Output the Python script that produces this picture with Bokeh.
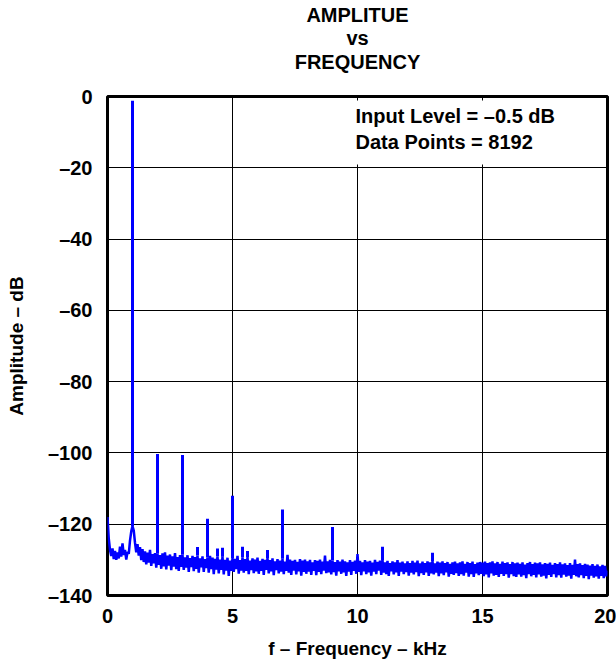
import numpy as np
from bokeh.plotting import figure
from bokeh.models import FixedTicker, Label, BoxAnnotation, Range1d, ColumnDataSource, LinearAxis
from bokeh.embed import file_html
from bokeh.resources import INLINE

# ---- data ----
x_ticks = [0, 5, 10, 15, 20]
y_ticks = [-140, -120, -100, -80, -60, -40, -20, 0]

# noise floor sampled every 0.05 kHz from 0 to 20 kHz (dB)
noise_step_khz = 0.05
noise_db = [
    -118.0, -124.0, -127.2, -128.9, -126.8, -129.8, -127.5, -130.0, -127.9, -129.6,
    -126.3, -129.1, -125.4, -128.6, -127.2, -129.9, -127.8, -128.3, -124.6, -122.0,
    -120.5, -121.8, -125.2, -127.9, -125.6, -128.8, -126.4, -130.1, -127.0, -130.6,
    -127.6, -131.3, -128.0, -130.8, -127.2, -131.7, -128.4, -131.0, -128.1, -132.2,
    -128.3, -131.4, -128.7, -132.5, -128.2, -131.8, -127.9, -132.7, -128.8, -131.6,
    -128.5, -132.9, -129.0, -131.9, -128.1, -132.6, -129.2, -133.1, -128.7, -132.0,
    -128.6, -132.8, -129.3, -132.2, -128.7, -133.4, -129.5, -132.0, -128.9, -133.2,
    -129.2, -132.5, -128.8, -133.6, -129.6, -132.1, -129.0, -133.4, -129.8, -132.3,
    -129.3, -133.6, -128.9, -132.6, -129.4, -134.0, -129.7, -132.7, -129.0, -133.8,
    -129.9, -132.8, -129.1, -134.1, -130.0, -133.0, -129.4, -134.5, -130.2, -133.1,
    -129.5, -133.4, -129.7, -132.6, -128.9, -133.9, -130.1, -133.0, -129.3, -133.6,
    -129.8, -133.1, -129.2, -134.0, -130.2, -132.9, -129.6, -133.7, -129.9, -133.2,
    -129.4, -133.9, -130.3, -133.1, -129.7, -134.2, -130.0, -132.8, -129.5, -133.8,
    -130.1, -133.2, -129.6, -134.3, -130.4, -132.9, -129.8, -133.8, -130.2, -133.3,
    -129.7, -134.0, -130.5, -133.1, -128.6, -133.6, -129.9, -134.2, -130.3, -133.0,
    -130.0, -134.1, -130.6, -133.2, -129.8, -134.4, -130.2, -133.4, -129.9, -133.9,
    -130.4, -133.3, -130.0, -134.2, -130.7, -133.1, -130.1, -134.3, -130.3, -133.4,
    -129.9, -134.0, -130.5, -133.0, -128.8, -133.7, -130.4, -133.5, -130.0, -134.1,
    -130.2, -133.4, -130.6, -134.4, -130.1, -133.2, -130.5, -133.9, -129.9, -133.5,
    -130.4, -134.5, -130.7, -133.3, -130.1, -134.2, -130.6, -133.1, -130.2, -133.9,
    -128.4, -133.4, -130.3, -134.3, -130.7, -133.2, -130.1, -134.0, -130.5, -133.5,
    -130.3, -134.4, -130.8, -133.3, -130.0, -134.0, -130.6, -133.0, -130.2, -134.2,
    -130.1, -133.6, -130.7, -134.0, -130.3, -134.5, -130.9, -133.2, -130.4, -134.1,
    -130.7, -133.5, -130.1, -134.5, -130.8, -133.3, -130.5, -134.0, -131.0, -133.4,
    -130.4, -134.4, -130.9, -133.6, -130.3, -134.1, -130.8, -133.4, -130.2, -134.6,
    -131.0, -133.7, -130.5, -134.2, -130.9, -133.5, -130.4, -134.5, -130.7, -133.8,
    -130.3, -134.1, -131.0, -133.6, -130.5, -134.6, -130.8, -133.8, -130.4, -134.3,
    -130.9, -133.5, -130.6, -134.7, -131.1, -133.9, -130.7, -134.2, -130.5, -133.7,
    -131.0, -134.5, -130.7, -134.0, -130.4, -134.4, -131.1, -133.6, -130.6, -134.7,
    -130.9, -134.0, -130.5, -134.8, -131.2, -133.8, -130.8, -134.3, -130.6, -133.9,
    -130.8, -134.6, -130.5, -134.1, -130.9, -134.9, -130.7, -133.8, -130.4, -134.4,
    -131.0, -134.2, -130.6, -134.8, -131.1, -133.9, -130.5, -134.5, -130.9, -134.0,
    -130.7, -135.0, -131.2, -134.0, -130.6, -134.6, -131.0, -134.8, -130.8, -134.1,
    -131.1, -134.7, -130.7, -134.3, -131.3, -135.1, -130.9, -134.0, -130.6, -134.6,
    -131.2, -134.2, -130.8, -134.9, -131.0, -134.1, -130.7, -134.7, -131.3, -134.4,
    -130.9, -135.2, -131.1, -134.2, -130.8, -134.8, -131.4, -134.0, -130.9, -134.9,
    -131.2, -134.3, -130.7, -135.0, -131.3, -134.1, -131.0, -134.7, -131.5, -134.4,
    -130.9, -135.3, -131.4, -134.2, -129.9, -134.6, -131.2, -134.9, -131.0, -134.3,
    -131.5, -135.1, -131.1, -134.5, -131.3, -135.4, -131.6, -134.4, -131.2, -135.0,
    -131.7, -134.6, -131.3, -135.3, -131.8, -134.5, -131.4, -135.1, -131.7, -134.6,
    -133.0,
]

# fundamental, harmonics and spurs (kHz, dB)
peak_khz = [1.0, 2.0, 3.0, 3.6, 4.0, 4.4, 4.6, 5.0, 5.4, 5.6, 6.4, 7.0, 9.0, 11.0, 13.0]
peak_db = [-1.2, -100.3, -100.6, -126.4, -118.5, -126.8, -126.6, -112.0, -126.3,
           -127.5, -127.2, -115.9, -120.8, -126.3, -128.0]

title_lines = ["AMPLITUE", "vs", "FREQUENCY"]
note_lines = ["Input Level = \u20130.5 dB", "Data Points = 8192"]
x_label = "f \u2013 Frequency \u2013 kHz"
y_label = "Amplitude \u2013 dB"

# ---- figure ----
FONT = "Liberation Sans"
BLUE = "#0000FF"

noise_khz = np.arange(len(noise_db)) * noise_step_khz
peak_base = np.interp(peak_khz, noise_khz, noise_db)

p = figure(title=None, frame_width=500, frame_height=499,
           min_border_left=107, min_border_right=9, min_border_top=96, min_border_bottom=58,
           x_range=Range1d(0, 20), y_range=Range1d(-140, 0),
           output_backend="svg", toolbar_location=None)
p.background_fill_color = "white"
p.border_fill_color = "white"
p.outline_line_color = "black"
p.outline_line_width = 3
p.outline_line_alpha = 1

for ax, ticks in ((p.xaxis, x_ticks), (p.yaxis, y_ticks)):
    ax.ticker = FixedTicker(ticks=ticks)
    ax.major_label_overrides = {t: (("\u2013" + str(abs(t))) if t < 0 else str(t)) for t in ticks}
    ax.axis_line_color = None
    ax.major_tick_line_color = None
    ax.minor_tick_line_color = None
    ax.major_label_text_font = FONT
    ax.major_label_text_font_style = "bold"
    ax.major_label_text_font_size = "20px"
    ax.major_label_text_color = "black"
    ax.axis_label_text_font = FONT
    ax.axis_label_text_font_style = "bold"
    ax.axis_label_text_font_size = "19px"
    ax.axis_label_text_color = "black"

p.xaxis.axis_label = x_label
p.yaxis.axis_label = y_label
p.xaxis.major_label_standoff = 7
p.yaxis.major_label_standoff = 9
p.xaxis.axis_label_standoff = 12
p.yaxis.axis_label_standoff = 18

# title: a label-only axis above the frame
top_axis = LinearAxis(ticker=FixedTicker(ticks=[]), axis_label="\n".join(title_lines),
                      axis_line_color=None, major_tick_line_color=None, minor_tick_line_color=None,
                      major_tick_out=0, major_tick_in=0, major_label_standoff=0,
                      major_label_text_font_size="0px",
                      axis_label_standoff=24, axis_label_text_font=FONT,
                      axis_label_text_font_style="bold", axis_label_text_font_size="20px",
                      axis_label_text_color="black", axis_label_text_line_height=1.05,
                      axis_label_text_align="center")
p.add_layout(top_axis, "above")

for g in (p.xgrid, p.ygrid):
    g.grid_line_color = "black"
    g.grid_line_width = 1
    g.grid_line_alpha = 1

p.xgrid.ticker = FixedTicker(ticks=x_ticks)
p.ygrid.ticker = FixedTicker(ticks=y_ticks)

src = ColumnDataSource(dict(x=noise_khz, y=noise_db))
p.line("x", "y", source=src, line_color=BLUE, line_width=2.5)
psrc = ColumnDataSource(dict(x=peak_khz, y0=peak_base, y1=peak_db))
p.segment(x0="x", y0="y0", x1="x", y1="y1", source=psrc, line_color=BLUE, line_width=3)

# white box behind the note
p.add_layout(BoxAnnotation(left=9.3, right=19.9, top=-1.1, bottom=-19.1,
                           fill_color="white", fill_alpha=1, line_color=None))
for txt, yy in zip(note_lines, [-5.4, -12.9]):
    p.add_layout(Label(x=9.92, y=yy, text=txt, text_font=FONT, text_font_style="bold",
                       text_font_size="20px", text_align="left", text_baseline="alphabetic",
                       text_color="black"))

open("out.html", "w").write(file_html(p, INLINE))
